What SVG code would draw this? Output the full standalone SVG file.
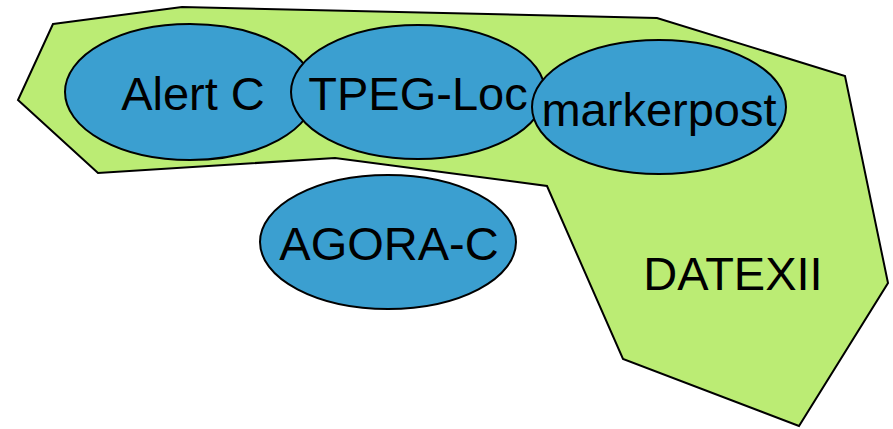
<svg xmlns="http://www.w3.org/2000/svg" width="893" height="429" viewBox="0 0 893 429">
<style>
.region{fill:#bbec74;stroke:#000;stroke-width:2;stroke-linejoin:miter}
.node{fill:#3b9fd0;stroke:#000;stroke-width:2}
.lbl{font-family:"Liberation Sans",Arial,sans-serif;font-size:47px;fill:#000;text-anchor:middle}
</style>
<g id="datexii">
<polygon class="region" points="53,24 182,7 657,18 845,76 888,283 799,426 623,359 547,186 335,158 98,173 18,100"/>
<text class="lbl" x="733" y="290">DATEXII</text>
</g>
<g id="connectors"></g>
<g id="alertc">
<ellipse class="node" cx="190" cy="92" rx="125" ry="68"/>
<text class="lbl" x="193" y="110">Alert C</text>
</g>
<g id="tpegloc">
<ellipse class="node" cx="418" cy="92" rx="127" ry="67"/>
<text class="lbl" x="418" y="110">TPEG-Loc</text>
</g>
<g id="markerpost">
<ellipse class="node" cx="659" cy="107" rx="127" ry="67"/>
<text class="lbl" x="659" y="126">markerpost</text>
</g>
<g id="agorac">
<ellipse class="node" cx="388" cy="242" rx="128" ry="67"/>
<text class="lbl" x="389" y="260">AGORA-C</text>
</g>
</svg>
